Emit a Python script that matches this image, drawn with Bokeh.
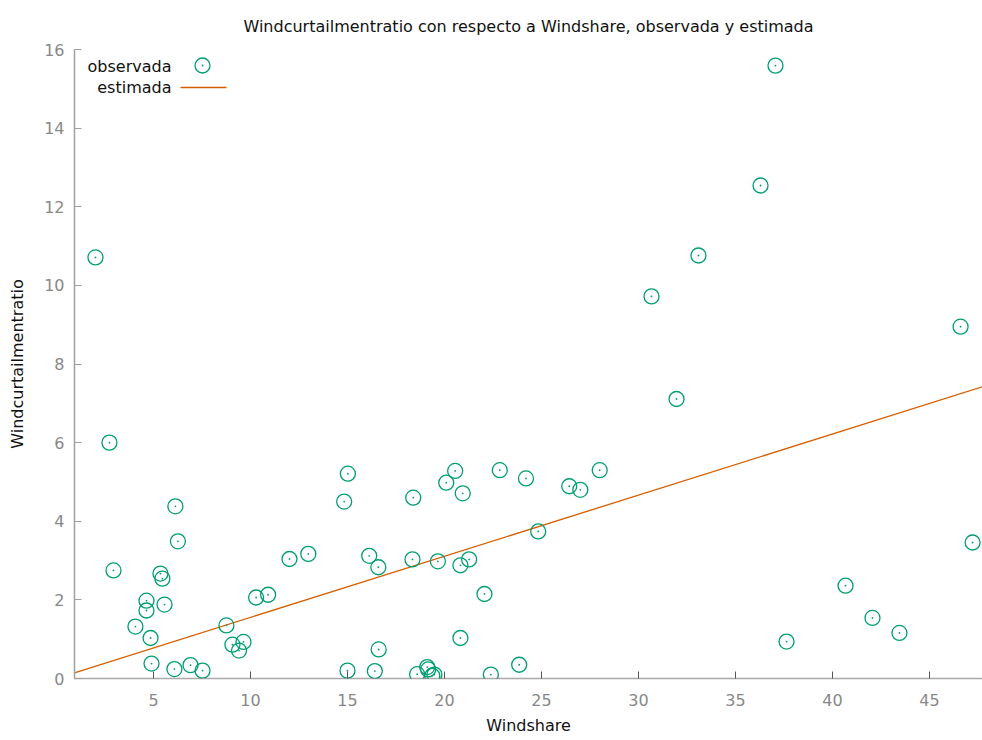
from bokeh.plotting import figure
from bokeh.models import Range1d, FixedTicker, Label, Title
from bokeh.embed import file_html
from bokeh.resources import INLINE
import numpy as np

# ---- data ----
windshare = [2.01, 2.73, 2.94, 4.07, 4.64, 4.64, 4.85, 4.90, 5.36, 5.46, 5.57,
             6.13, 6.26, 6.08, 6.91, 7.53, 8.76, 9.07, 9.41, 9.64, 10.29, 10.91,
             12.01, 12.98, 14.83, 15.02, 15.00, 16.12, 16.59, 16.61, 16.41,
             18.39, 18.35, 18.59, 19.11, 19.16, 19.37, 19.48, 19.66, 20.09,
             20.55, 20.82, 20.82, 20.94, 21.27, 22.06, 22.39, 22.85, 23.85,
             24.20, 24.83, 26.43, 27.00, 28.00, 30.67, 31.96, 33.09, 37.06,
             36.29, 37.63, 40.67, 42.06, 43.45, 46.60, 47.22]
windcurtail = [10.71, 6.00, 2.75, 1.32, 1.98, 1.73, 1.03, 0.38, 2.67, 2.54, 1.88,
               4.38, 3.49, 0.24, 0.34, 0.20, 1.35, 0.86, 0.71, 0.93, 2.06, 2.13,
               3.04, 3.17, 4.50, 5.21, 0.20, 3.12, 2.83, 0.74, 0.19,
               4.60, 3.03, 0.11, 0.29, 0.23, 0.07, 0.10, 2.98, 4.98,
               5.28, 1.03, 2.88, 4.71, 3.03, 2.15, 0.10, 5.30, 0.35,
               5.09, 3.74, 4.89, 4.80, 5.30, 9.72, 7.11, 10.76, 15.59,
               12.54, 0.94, 2.36, 1.54, 1.16, 8.95, 3.46]

fit_intercept = 0.0
fit_slope = 0.1555

x_range = [0.93, 47.73]
y_range = [0.0, 16.0]
x_ticks = [5, 10, 15, 20, 25, 30, 35, 40, 45]
y_ticks = [0, 2, 4, 6, 8, 10, 12, 14, 16]

title_text = "Windcurtailmentratio con respecto a Windshare, observada y estimada"
xlabel = "Windshare"
ylabel = "Windcurtailmentratio"
legend_labels = ["observada", "estimada"]

GREEN = "#009e73"
ORANGE = "#d55e00"
FONT = "DejaVu Sans"
FS = "16px"

W, H = 982, 740
LEFT, RIGHT, TOP, BOTTOM = 74, 0, 49, 62
FW, FH = W - LEFT - RIGHT, H - TOP - BOTTOM

p = figure(width=W, height=H, output_backend="svg", toolbar_location=None,
           x_range=Range1d(*x_range), y_range=Range1d(*y_range),
           min_border_left=LEFT, min_border_right=RIGHT,
           min_border_top=TOP, min_border_bottom=BOTTOM,
           title=None)
p.outline_line_color = None
p.grid.visible = False
p.background_fill_color = "white"
p.border_fill_color = "white"

t = Title(text=title_text, align="center", text_font=FONT, text_font_size=FS,
          text_font_style="normal", text_color="#111111", offset=0, standoff=28)
p.add_layout(t, "above")

# axes
xa = p.xaxis[0]
xa.ticker = FixedTicker(ticks=x_ticks)
xa.axis_line_color = "#555555"
xa.axis_line_dash = "1 1"
xa.axis_line_width = 1.5
xa.major_tick_in = 7
xa.major_tick_out = 0
xa.major_tick_line_color = "#555555"
xa.minor_tick_line_color = None
xa.major_label_text_font = FONT
xa.major_label_text_font_size = FS
xa.major_label_text_color = "#888888"
xa.major_label_standoff = 15
xa.axis_label = xlabel
xa.axis_label_text_font = FONT
xa.axis_label_text_font_size = FS
xa.axis_label_text_font_style = "normal"
xa.axis_label_text_color = "#111111"
xa.axis_label_standoff = 7

ya = p.yaxis[0]
ya.ticker = FixedTicker(ticks=y_ticks)
ya.axis_line_color = "#a0a0a0"
ya.axis_line_width = 1.5
ya.major_tick_in = 7
ya.major_tick_out = 0
ya.major_tick_line_color = "#a0a0a0"
ya.minor_tick_line_color = None
ya.major_label_text_font = FONT
ya.major_label_text_font_size = FS
ya.major_label_text_color = "#888888"
ya.major_label_standoff = 10
ya.axis_label = ylabel
ya.axis_label_text_font = FONT
ya.axis_label_text_font_size = FS
ya.axis_label_text_font_style = "normal"
ya.axis_label_text_color = "#111111"
ya.axis_label_standoff = 14

# fitted line
lx = np.array(x_range)
ly = fit_intercept + fit_slope * lx
p.line(lx, ly, line_color=ORANGE, line_width=1.3)

# observed points
p.scatter(windshare, windcurtail, marker="circle", size=15, fill_color=None,
          line_color=GREEN, line_width=1.3)
p.scatter(windshare, windcurtail, marker="circle", size=1.8, fill_color=GREEN,
          line_color=None)

# legend (gnuplot style: text right-aligned, key to the right)
def sx(px):
    return x_range[0] + (px - LEFT) / FW * (x_range[1] - x_range[0])

def sy(py):
    return y_range[0] + (TOP + FH - py) / FH * (y_range[1] - y_range[0])

for lbl, py in zip(legend_labels, [66, 87]):
    p.add_layout(Label(x=sx(171), y=sy(py), text=lbl, text_align="right",
                       text_baseline="middle", text_font=FONT,
                       text_font_size=FS, text_color="#111111"))
p.scatter([sx(202)], [sy(65)], marker="circle", size=15, fill_color=None,
          line_color=GREEN, line_width=1.3)
p.scatter([sx(202)], [sy(65)], marker="circle", size=1.8, fill_color=GREEN,
          line_color=None)
p.line([sx(180), sx(226)], [sy(87), sy(87)], line_color=ORANGE, line_width=1.3)

open("out.html", "w").write(file_html(p, INLINE))
